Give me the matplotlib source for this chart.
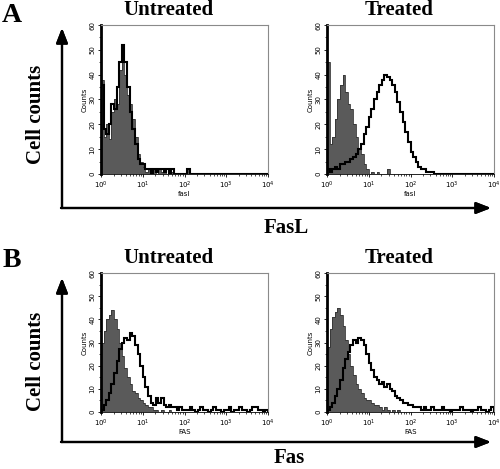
import numpy as np
import matplotlib
matplotlib.use('Agg')
import matplotlib.pyplot as plt
from matplotlib.ticker import MultipleLocator, LogLocator, NullFormatter

# histogram counts, 64 channels spanning 10^0 .. 10^4 (16 per decade)
fasl_untr_ctrl = [38, 15, 20, 14, 25, 30, 28, 42, 50, 40, 32, 28, 22, 15, 8, 5,
                  3, 1, 2, 1, 2, 0, 2, 1, 2, 0, 2, 1, 0, 0, 0, 0,
                  0, 2, 0, 0, 0, 0, 0, 0, 0, 0, 0, 0, 0, 0, 0, 0,
                  0, 0, 0, 0, 0, 0, 0, 0, 0, 0, 0, 0, 0, 0, 0, 0]
fasl_untr_stain = [36, 18, 16, 20, 28, 26, 35, 45, 52, 45, 35, 25, 18, 12, 6, 4,
                   4, 2, 2, 0, 2, 1, 2, 2, 1, 2, 0, 2, 0, 0, 0, 0,
                   0, 2, 0, 0, 0, 0, 0, 0, 0, 0, 0, 0, 0, 0, 0, 0,
                   0, 0, 0, 0, 0, 0, 0, 0, 0, 0, 0, 0, 0, 0, 0, 0]
fasl_trt_ctrl = [45, 12, 15, 22, 30, 36, 40, 33, 28, 26, 20, 15, 10, 8, 4, 2,
                 0, 1, 0, 1, 0, 0, 0, 2, 0, 0, 0, 0, 0, 0, 0, 0,
                 0, 0, 0, 0, 0, 0, 0, 0, 0, 0, 0, 0, 0, 0, 0, 0,
                 0, 0, 0, 0, 0, 0, 0, 0, 0, 0, 0, 0, 0, 0, 0, 0]
fasl_trt_stain = [2, 1, 2, 3, 2, 4, 4, 5, 5, 6, 7, 8, 10, 12, 16, 19,
                  23, 26, 30, 33, 36, 38, 40, 39, 38, 36, 33, 29, 25, 21, 17, 13,
                  9, 7, 5, 3, 2, 2, 1, 1, 1, 0, 0, 0, 0, 0, 0, 0,
                  0, 0, 0, 0, 0, 0, 0, 0, 0, 0, 0, 0, 0, 0, 0, 0]

fas_untr_ctrl = [30, 35, 40, 42, 44, 40, 36, 30, 24, 19, 15, 12, 9, 8, 6, 5,
                 4, 3, 2, 2, 1, 1, 0, 1, 0, 0, 1, 0, 0, 0, 0, 0,
                 0, 0, 0, 0, 0, 0, 0, 0, 0, 0, 0, 0, 0, 0, 0, 0,
                 0, 0, 0, 0, 0, 0, 0, 0, 0, 0, 0, 0, 0, 0, 0, 0]
fas_untr_stain = [1, 3, 5, 8, 12, 17, 22, 27, 30, 32, 31, 34, 33, 29, 25, 20,
                  15, 11, 7, 4, 3, 6, 4, 6, 3, 2, 3, 2, 2, 1, 2, 1,
                  1, 1, 2, 1, 0, 1, 2, 1, 1, 0, 1, 2, 1, 1, 0, 1,
                  1, 2, 0, 1, 1, 2, 1, 1, 0, 1, 2, 2, 1, 1, 0, 1]
fas_trt_ctrl = [28, 36, 41, 43, 45, 42, 37, 31, 25, 20, 16, 12, 10, 8, 6, 5,
                5, 4, 3, 3, 2, 1, 2, 1, 0, 1, 0, 1, 0, 0, 0, 0,
                0, 0, 0, 0, 0, 0, 0, 0, 0, 0, 0, 0, 0, 0, 0, 0,
                0, 0, 0, 0, 0, 0, 0, 0, 0, 0, 0, 0, 0, 0, 0, 0]
fas_trt_stain = [1, 2, 4, 7, 10, 14, 19, 23, 26, 29, 31, 30, 32, 31, 29, 25,
                 21, 18, 15, 14, 12, 13, 11, 12, 10, 9, 7, 6, 5, 4, 4, 3,
                 3, 2, 2, 2, 1, 2, 1, 1, 2, 1, 1, 1, 2, 1, 1, 0,
                 1, 1, 1, 2, 1, 1, 1, 0, 1, 1, 2, 1, 1, 0, 1, 2]

edges = np.logspace(0, 4, 65)

serif = 'Liberation Serif'
W, H = 500., 469.


def hist_panel(rect, ctrl, stain, xlab):
    ax = fig.add_axes(rect)
    ax.stairs(ctrl, edges, fill=True, color='#5a5a5a', zorder=2)
    ax.stairs(ctrl, edges, color='#333333', lw=0.6, zorder=2)
    ax.stairs(stain, edges, color='black', lw=1.5, zorder=3)
    ax.set_xscale('log')
    ax.set_xlim(1, 1e4)
    ax.set_ylim(0, 60)
    ax.yaxis.set_major_locator(MultipleLocator(10))
    ax.yaxis.set_minor_locator(MultipleLocator(5))
    ax.xaxis.set_major_locator(LogLocator(base=10))
    ax.xaxis.set_minor_locator(LogLocator(base=10, subs=np.arange(2, 10)))
    ax.xaxis.set_minor_formatter(NullFormatter())
    ax.tick_params(axis='both', which='major', labelsize=5, length=2.5, width=0.6, pad=1.5)
    ax.tick_params(axis='both', which='minor', length=1.5, width=0.5)
    for t in ax.get_yticklabels():
        t.set_rotation(90)
        t.set_va('center')
    ax.spines['left'].set_linewidth(2)
    ax.spines['bottom'].set_linewidth(0.6)
    for s in ('top', 'right'):
        ax.spines[s].set_color('#8a8a8a')
        ax.spines[s].set_linewidth(0.8)
    ax.set_xlabel(xlab, fontsize=5, labelpad=0)
    ax.set_ylabel('Counts', fontsize=5, labelpad=1)
    return ax


fig = plt.figure(figsize=(5, 4.69), dpi=100)

def rect(x0, y0, x1, y1):
    return [x0 / W, 1 - y1 / H, (x1 - x0) / W, (y1 - y0) / H]

hist_panel(rect(101, 25, 268, 174), fasl_untr_ctrl, fasl_untr_stain, 'fasl')
hist_panel(rect(327, 25, 494, 174), fasl_trt_ctrl, fasl_trt_stain, 'fasl')
hist_panel(rect(101, 273, 268, 412), fas_untr_ctrl, fas_untr_stain, 'FAS')
hist_panel(rect(327, 273, 494, 412), fas_trt_ctrl, fas_trt_stain, 'FAS')

arrow = dict(arrowstyle='-|>,head_width=0.35,head_length=0.9', lw=1.6, color='black',
             shrinkA=0, shrinkB=0)
for y0, ytop in ((208, 28), (442, 278)):
    fig.add_artist(plt.annotate('', xy=(62 / W, 1 - ytop / H), xytext=(62 / W, 1 - y0 / H),
                                xycoords='figure fraction', arrowprops=arrow))
    fig.add_artist(plt.annotate('', xy=(491 / W, 1 - y0 / H), xytext=(61 / W, 1 - y0 / H),
                                xycoords='figure fraction', arrowprops=arrow))

def ftext(x, y, s, size, va='baseline', **kw):
    fig.text(x / W, 1 - y / H, s, fontsize=size, fontfamily=serif, fontweight='bold',
             ha='center', va=va, **kw)

ftext(12, 22, 'A', 20)
ftext(12, 267, 'B', 20)
ftext(168, 15, 'Untreated', 15)
ftext(399, 15, 'Treated', 15)
ftext(168, 263, 'Untreated', 15)
ftext(399, 263, 'Treated', 15)
ftext(36, 114, 'Cell counts', 15, va='center', rotation=90)
ftext(36, 361, 'Cell counts', 15, va='center', rotation=90)
ftext(286, 233, 'FasL', 15)
ftext(289, 463, 'Fas', 15)

fig.savefig('out.png', dpi=100)
